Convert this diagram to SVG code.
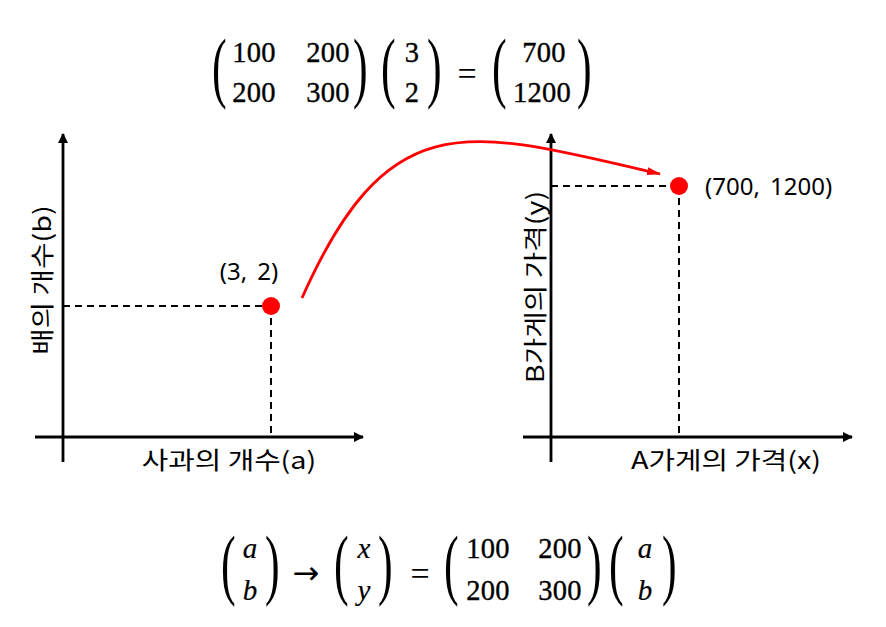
<svg xmlns="http://www.w3.org/2000/svg" width="886" height="627" viewBox="0 0 886 627">
<style>
.ax{stroke:#000;stroke-width:2.8;fill:none}
.dash{stroke:#000;stroke-width:2;stroke-dasharray:7,5;fill:none}
.pt{fill:#ff0000}
.lbl{font-family:"Noto Sans CJK KR","Noto Sans",sans-serif;font-size:24px;fill:#000}
.coord{font-family:"Noto Sans","Noto Sans CJK KR",sans-serif;font-size:24px;word-spacing:4px;fill:#000}
.m{font-family:"Liberation Serif","DejaVu Serif",serif;font-size:28.5px;letter-spacing:0.3px;fill:#000;stroke:#000;stroke-width:0.35}
.mi{font-family:"Liberation Serif","DejaVu Serif",serif;font-size:29px;font-style:italic;fill:#000;stroke:#000;stroke-width:0.2}
.eq{font-family:"Liberation Serif","DejaVu Serif",serif;font-size:34px;fill:#000}
.arr{font-family:"DejaVu Sans",sans-serif;font-size:32px;fill:#000}
.par{font-family:"Liberation Serif","DejaVu Serif",serif;font-size:44px;fill:#000}
</style>
<defs>
<marker id="ah" markerWidth="10" markerHeight="10" refX="9" refY="5" orient="auto" markerUnits="userSpaceOnUse">
<path d="M0,0 L10,5 L0,10 z" fill="#000"/>
</marker>
<marker id="rah" markerWidth="14" markerHeight="10" refX="13" refY="5" orient="auto" markerUnits="userSpaceOnUse">
<path d="M0,1 L14,5 L0,9 z" fill="#ff0000"/>
</marker>
</defs>

<g id="eq-top">
<text class="par" transform="translate(212,93) scale(1,1.8)">(</text>
<text class="m" x="254" y="62" text-anchor="middle">100</text>
<text class="m" x="328" y="62" text-anchor="middle">200</text>
<text class="m" x="254" y="102" text-anchor="middle">200</text>
<text class="m" x="328" y="102" text-anchor="middle">300</text>
<text class="par" transform="translate(353,93) scale(1,1.8)">)</text>
<text class="par" transform="translate(381,93) scale(1,1.8)">(</text>
<text class="m" x="412" y="62" text-anchor="middle">3</text>
<text class="m" x="412" y="102" text-anchor="middle">2</text>
<text class="par" transform="translate(427,93) scale(1,1.8)">)</text>
<text class="eq" x="467" y="85" text-anchor="middle">=</text>
<text class="par" transform="translate(492,93) scale(1,1.8)">(</text>
<text class="m" x="544" y="62" text-anchor="middle">700</text>
<text class="m" x="542" y="102" text-anchor="middle">1200</text>
<text class="par" transform="translate(577,93) scale(1,1.8)">)</text>
</g>

<g id="eq-bottom">
<text class="par" transform="translate(221,590) scale(1,1.8)">(</text>
<text class="mi" x="250" y="558" text-anchor="middle">a</text>
<text class="mi" x="250" y="600" text-anchor="middle">b</text>
<text class="par" transform="translate(265,590) scale(1,1.8)">)</text>
<text class="arr" x="306" y="584" text-anchor="middle">→</text>
<text class="par" transform="translate(334,590) scale(1,1.8)">(</text>
<text class="mi" x="364" y="558" text-anchor="middle">x</text>
<text class="mi" x="364" y="600" text-anchor="middle">y</text>
<text class="par" transform="translate(378,590) scale(1,1.8)">)</text>
<text class="eq" x="420" y="585" text-anchor="middle">=</text>
<text class="par" transform="translate(444,590) scale(1,1.8)">(</text>
<text class="m" x="488" y="558" text-anchor="middle">100</text>
<text class="m" x="560" y="558" text-anchor="middle">200</text>
<text class="m" x="488" y="600" text-anchor="middle">200</text>
<text class="m" x="560" y="600" text-anchor="middle">300</text>
<text class="par" transform="translate(587,590) scale(1,1.8)">)</text>
<text class="par" transform="translate(609,590) scale(1,1.8)">(</text>
<text class="mi" x="645" y="558" text-anchor="middle">a</text>
<text class="mi" x="645" y="600" text-anchor="middle">b</text>
<text class="par" transform="translate(662,590) scale(1,1.8)">)</text>
</g>

<g id="left-axes">
<line class="ax" x1="63" y1="462" x2="63" y2="134" marker-end="url(#ah)"/>
<line class="ax" x1="35" y1="437" x2="363" y2="437" marker-end="url(#ah)"/>
<text class="lbl" transform="translate(229,469) scale(1.2,1)" text-anchor="middle">사과의 개수(a)</text>
<text class="lbl" transform="translate(51,280) rotate(-90) scale(1.2,1)" text-anchor="middle">배의 개수(b)</text>
</g>

<g id="left-point">
<line class="dash" x1="63" y1="306" x2="271" y2="306"/>
<line class="dash" x1="271" y1="306" x2="271" y2="437"/>
<circle class="pt" cx="271" cy="306" r="9"/>
<text class="coord" x="249" y="280" text-anchor="middle">(3, 2)</text>
</g>

<g id="right-axes">
<line class="ax" x1="551" y1="462" x2="551" y2="134" marker-end="url(#ah)"/>
<line class="ax" x1="523" y1="437" x2="852" y2="437" marker-end="url(#ah)"/>
<text class="lbl" transform="translate(726,469) scale(1.2,1)" text-anchor="middle">A가게의 가격(x)</text>
<text class="lbl" transform="translate(544,287) rotate(-90) scale(1.2,1)" text-anchor="middle">B가게의 가격(y)</text>
</g>

<g id="right-point">
<line class="dash" x1="551" y1="186" x2="679" y2="186"/>
<line class="dash" x1="679" y1="186" x2="679" y2="437"/>
<circle class="pt" cx="679" cy="186" r="9"/>
<text class="coord" x="705" y="195">(700, 1200)</text>
</g>

<g id="connectors">
<path d="M302,298 C390,100 470,130 660,174" fill="none" stroke="#ff0000" stroke-width="2.8" marker-end="url(#rah)"/>
</g>
</svg>
